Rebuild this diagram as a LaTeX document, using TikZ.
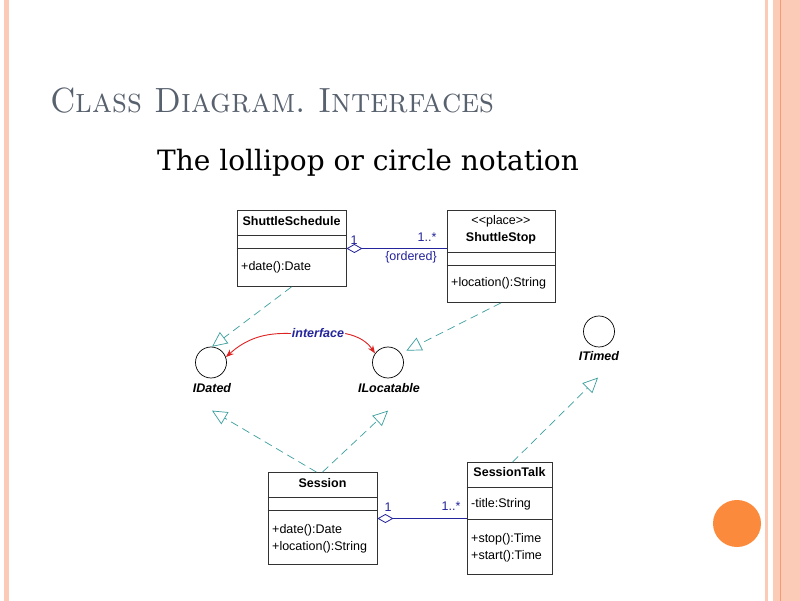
\documentclass[tikz,border=0pt]{standalone}
\usepackage{fontspec}
\newfontfamily\umlfont{Liberation Sans}
\newfontfamily\slidefont{DejaVu Serif}
\usetikzlibrary{arrows.meta, positioning, calc}
\definecolor{slidepink}{HTML}{FCCBB7}
\definecolor{slideline}{HTML}{F29C74}
\definecolor{slideorange}{HTML}{FC8A3C}
\definecolor{titlegray}{HTML}{58616E}
\definecolor{umlteal}{HTML}{3C9E9E}
\definecolor{umlnavy}{HTML}{24249C}
\definecolor{umlred}{HTML}{DD2222}

\begin{document}
\begin{tikzpicture}[x=1pt, y=-1pt,
    classbox/.style={draw=black!80, line width=0.8pt, fill=white, inner sep=0pt},
    classname/.style={font=\umlfont\fontsize{12.5}{14}\selectfont\bfseries},
    member/.style={font=\umlfont\fontsize{12.5}{17}\selectfont, anchor=west, align=left, inner sep=0pt},
    lolli/.style={circle, draw, line width=0.7pt, minimum size=31pt, inner sep=0pt},
    lolliname/.style={font=\umlfont\fontsize{12.5}{14}\selectfont\bfseries\itshape},
    realize/.style={umlteal, dash pattern=on 8pt off 5pt, line width=0.7pt,
      -{Triangle[open, length=15pt, width=14pt]}},
    aggr/.style={umlnavy, line width=0.8pt, {Diamond[open, length=16pt, width=9pt]}-},
    mult/.style={umlnavy, font=\umlfont\fontsize{12.5}{14}\selectfont, inner sep=0pt},
    pointer/.style={umlred, line width=0.9pt, -{Stealth[length=8pt, width=6pt]}},
  ]
  % slide frame
  \fill[white] (0,0) rectangle (800,600);
  \fill[slidepink] (4,0) rectangle (9,600);
  \fill[slidepink] (765,0) rectangle (768,600);
  \fill[slidepink] (773,0) rectangle (800,600);
  \draw[slideline, line width=1pt] (780,0) -- (780,600);
  \fill[slideorange] (737,523) ellipse (24 and 23.5);

  % titles
  \node[anchor=base west, inner sep=0pt, text=titlegray, font=\fontsize{35}{40}\selectfont\scshape] (title) at (50,112) {\scalebox{0.93}[1]{Class Diagram.\ Interfaces}};
  \node[anchor=base west, inner sep=0pt, font=\slidefont\fontsize{28}{32}\selectfont] (subtitle) at (157,170) {The lollipop or circle notation};

  % ShuttleSchedule
  \node[classbox, minimum width=109pt, minimum height=76pt] (sched) at (291.5,248) {};
  \node[classname] (schedname) at (291.5,221) {ShuttleSchedule};
  \draw[black!80, line width=0.8pt] ($(sched.north west)+(0,25)$) -- ($(sched.north east)+(0,25)$);
  \draw[black!80, line width=0.8pt] ($(sched.north west)+(0,38)$) -- ($(sched.north east)+(0,38)$);
  \node[member] (schedops) at (241,267) {+date():Date};

  % ShuttleStop
  \node[classbox, minimum width=108pt, minimum height=92pt] (stop) at (501,256) {};
  \node[member, anchor=center] (stopstereo) at (501,221) {<<place>>};
  \node[classname] (stopname) at (501,238) {ShuttleStop};
  \draw[black!80, line width=0.8pt] ($(stop.north west)+(0,42)$) -- ($(stop.north east)+(0,42)$);
  \draw[black!80, line width=0.8pt] ($(stop.north west)+(0,55)$) -- ($(stop.north east)+(0,55)$);
  \node[member] (stopops) at (451,283) {+location():String};

  % Session
  \node[classbox, minimum width=109pt, minimum height=92pt] (session) at (322.5,518) {};
  \node[classname] (sessionname) at (322.5,483) {Session};
  \draw[black!80, line width=0.8pt] ($(session.north west)+(0,25)$) -- ($(session.north east)+(0,25)$);
  \draw[black!80, line width=0.8pt] ($(session.north west)+(0,38)$) -- ($(session.north east)+(0,38)$);
  \node[member] (sessionops) at (272,538) {+date():Date\\+location():String};

  % SessionTalk
  \node[classbox, minimum width=85pt, minimum height=112pt] (talk) at (509.5,518) {};
  \node[classname] (talkname) at (509.5,472) {SessionTalk};
  \draw[black!80, line width=0.8pt] ($(talk.north west)+(0,25)$) -- ($(talk.north east)+(0,25)$);
  \draw[black!80, line width=0.8pt] ($(talk.north west)+(0,57)$) -- ($(talk.north east)+(0,57)$);
  \node[member] (talkattr) at (471,504) {-title:String};
  \node[member] (talkops) at (471,547) {+stop():Time\\+start():Time};

  % interfaces
  \node[lolli] (idated) at (211,362) {};
  \node[lolliname] (idatedlbl) at (212,388) {IDated};
  \node[lolli] (iloc) at (388,362) {};
  \node[lolliname] (iloclbl) at (389,388) {ILocatable};
  \node[lolli] (itimed) at (599,331) {};
  \node[lolliname] (itimedlbl) at (599,356) {ITimed};
  \coordinate (datedin) at ($(idatedlbl.south)+(0,14)$);
  \coordinate (locin) at ($(iloclbl.south)+(-1,14)$);
  \coordinate (timedin) at ($(itimedlbl.south)+(-1,13)$);

  \node[umlnavy, font=\umlfont\fontsize{12.5}{14}\selectfont\bfseries\itshape, inner sep=1pt] (iface) at (318,333) {interface};
  \draw[pointer] (iface.west) to[bend right=22] (idated.20);
  \draw[pointer] (iface.east) to[bend left=22] (iloc.145);

  % associations
  \draw[aggr] (sched.east) -- (sched.east -| stop.west);
  \node[mult] (schedone) at (354,240) {1};
  \node[mult] (stopmany) at (427,237) {1..*};
  \node[mult] (ordered) at (411,257) {\{ordered\}};
  \draw[aggr] (session.east) -- (talk.west);
  \node[mult] (sessionone) at (388,507) {1};
  \node[mult] (talkmany) at (451,506) {1..*};

  % realizations
  \draw[realize] (sched.south) -- (idated.86);
  \draw[realize, shorten >=6pt] (stop.south) -- (iloc.35);
  \draw[realize] ($(session.north)+(-6,0)$) -- (datedin);
  \draw[realize] (session.north) -- (locin);
  \draw[realize] ($(talk.north)+(3,0)$) -- (timedin);
\end{tikzpicture}
\end{document}
